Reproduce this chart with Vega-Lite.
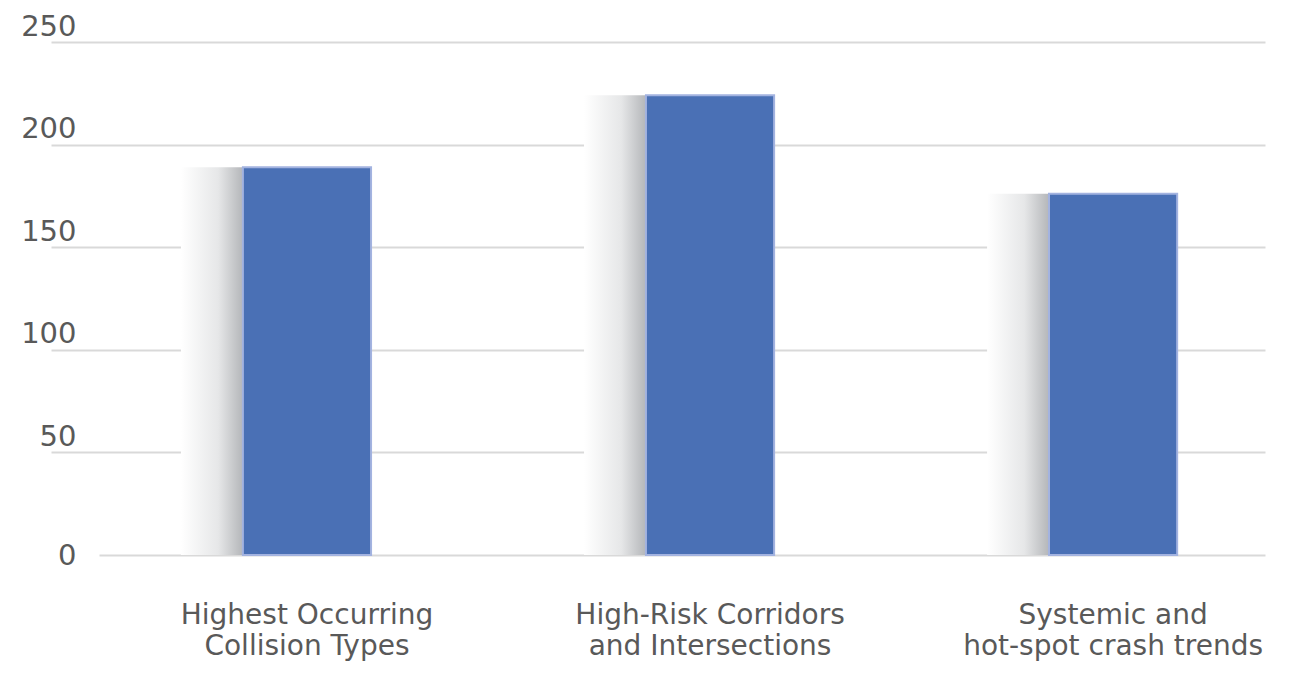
{
  "$schema": "https://vega.github.io/schema/vega-lite/v6.json",
  "width": 1214,
  "height": 513,
  "autosize": {"type": "none"},
  "padding": {"left": 51, "top": 42, "right": 40, "bottom": 127},
  "background": "white",
  "config": {"view": {"stroke": null}},
  "data": {
    "values": [
      {"category": "Highest Occurring Collision Types", "value": 189},
      {"category": "High-Risk Corridors and Intersections", "value": 224},
      {"category": "Systemic and hot-spot crash trends", "value": 176}
    ]
  },
  "encoding": {
    "x": {
      "field": "category",
      "type": "nominal",
      "sort": null,
      "scale": {"paddingInner": 0.682, "paddingOuter": 0.347, "align": 0.686},
      "axis": {
        "title": null,
        "domain": false,
        "ticks": false,
        "labelAngle": 0,
        "labelFont": "DejaVu Sans",
        "labelFontSize": 28,
        "labelColor": "#595959",
        "labelLineHeight": 31,
        "labelPadding": 46,
        "labelLimit": 0,
        "labelBaseline": "top",
        "labelExpr": "datum.label == 'Highest Occurring Collision Types' ? ['Highest Occurring', 'Collision Types'] : datum.label == 'High-Risk Corridors and Intersections' ? ['High-Risk Corridors', 'and Intersections'] : ['Systemic and', 'hot-spot crash trends']"
      }
    },
    "y": {
      "field": "value",
      "type": "quantitative",
      "scale": {"domain": [0, 250], "nice": false},
      "axis": {
        "title": null,
        "domain": false,
        "ticks": false,
        "values": [0, 50, 100, 150, 200, 250],
        "grid": true,
        "gridColor": "#d9d9d9",
        "gridWidth": 2,
        "gridDash": {"condition": {"test": "datum.value === 0", "value": [0, 48, 3000]}, "value": []},
        "labelFont": "DejaVu Sans",
        "labelFontSize": 29,
        "labelColor": "#595959",
        "labelPadding": -25,
        "labelOffset": {"condition": {"test": "datum.value === 0", "value": 0}, "value": -16}
      }
    }
  },
  "layer": [
    {
      "mark": {
        "type": "bar",
        "width": 62,
        "xOffset": -95,
        "color": {
          "gradient": "linear",
          "x1": 0, "y1": 0, "x2": 1, "y2": 0,
          "stops": [
            {"offset": 0, "color": "#ffffff"},
            {"offset": 0.6, "color": "#e6e7e8"},
            {"offset": 1, "color": "#b4b6b9"}
          ]
        }
      }
    },
    {
      "mark": {"type": "bar", "color": "#4a70b5", "stroke": "#a3b3e0", "strokeWidth": 2}
    }
  ]
}
